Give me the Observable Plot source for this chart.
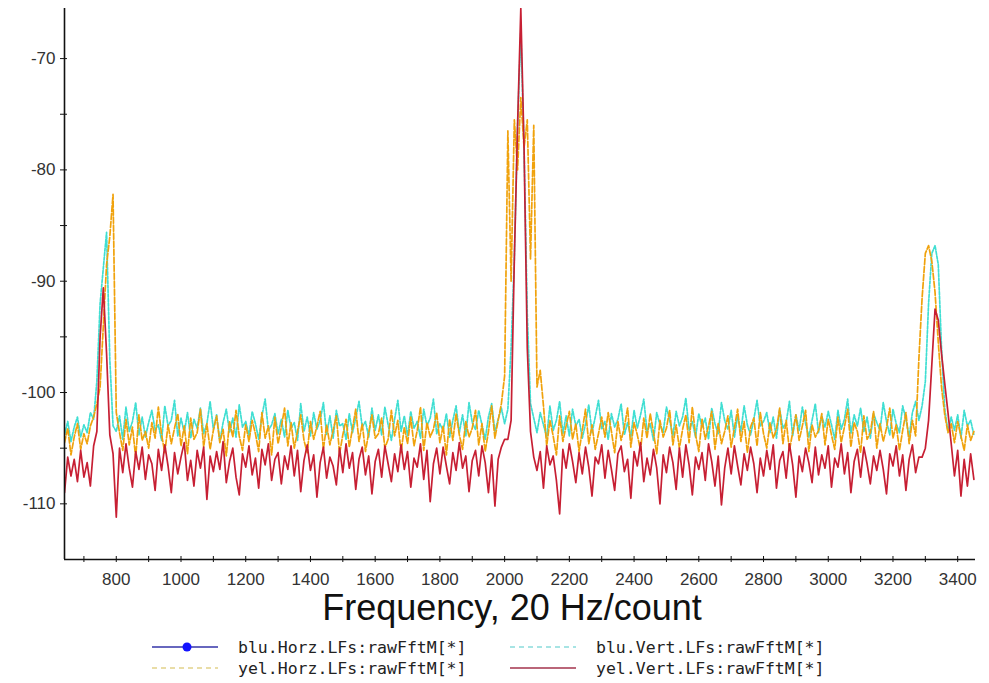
<!DOCTYPE html>
<html><head><meta charset="utf-8">
<script src="https://cdn.jsdelivr.net/npm/d3@7"></script>
<script src="https://cdn.jsdelivr.net/npm/@observablehq/plot@0.6"></script>
<style>
body{margin:0;background:#fff;}
#wrap{position:relative;width:989px;height:683px;overflow:hidden;}
#wrap svg{display:block;}
</style></head><body><div id="wrap"></div>
<script>
// ---- data (frequency in counts, level in dB) ----
const freqStart = 640, freqStep = 10;   // sample grid 640..3450
const xDomain = [640, 3455];
const yDomain = [-115, -65.5];

const seriesNames = ["blu.Horz.LFs:rawFftM[*]", "blu.Vert.LFs:rawFftM[*]", "yel.Horz.LFs:rawFftM[*]", "yel.Vert.LFs:rawFftM[*]"];

// blu.Horz: no trace visible in the reference
const bluHorz = [];

const bluVert = [
 -103.8,-102.6,-104.4,-103.1,-102.2,-104.0,-102.9,-103.6,-101.8,-102.4,
 -99.0,-92.0,-88.8,-85.6,-97.0,-103.0,-103.5,
 -102.1,-104.2,-101.3,-103.5,-102.6,-100.9,-103.8,-102.2,-104.0,-102.7,
 -101.6,-103.4,-102.9,-104.3,-101.2,-103.0,-102.5,-100.7,-103.9,-102.3,
 -103.6,-101.8,-104.1,-102.4,-103.2,-101.4,-103.7,-102.8,-100.8,-103.3,
 -102.0,-104.4,-102.7,-101.5,-103.6,-102.3,-104.0,-101.1,-103.1,-102.6,
 -103.9,-101.7,-102.8,-104.2,-102.1,-100.6,-103.4,-102.9,-101.9,-103.7,
 -102.4,-104.0,-101.6,-103.2,-102.7,-104.3,-101.0,-103.5,-102.2,-103.9,
 -101.8,-103.3,-102.5,-100.9,-103.8,-102.1,-104.1,-101.6,-103.0,-102.8,
 -104.2,-101.9,-103.6,-102.3,-100.8,-103.1,-102.6,-104.0,-101.4,-103.4,
 -102.0,-103.8,-101.3,-102.9,-104.3,-102.4,-100.7,-103.5,-102.1,-103.9,
 -101.7,-103.2,-102.6,-104.1,-101.5,-103.0,-102.3,-100.6,-103.7,-102.8,
 -103.4,-101.9,-104.0,-102.5,-101.2,-103.6,-102.0,-103.9,-100.9,-102.7,
 -103.3,-101.6,-102.9,-104.2,-102.2,-101.0,-103.5,-102.4,-101.4,-102.8,
 -101.5,-96.0,-88.0,-76.0,-67.5,-78.0,-93.0,-101.0,-102.3,
 -103.6,-101.8,-102.9,-104.0,-101.2,-103.4,-102.5,-100.8,-103.7,-102.1,-103.9,
 -101.5,-103.0,-102.4,-104.1,-102.8,-101.1,-103.6,-102.2,-100.7,-103.3,
 -102.6,-104.2,-101.9,-103.1,-102.4,-101.0,-103.8,-102.7,-104.0,-101.6,
 -103.2,-102.0,-100.6,-103.5,-102.8,-104.3,-101.8,-102.9,-103.6,-101.3,
 -102.5,-103.9,-101.7,-103.0,-102.2,-100.5,-103.4,-102.6,-104.0,-101.9,
 -103.1,-102.3,-104.2,-101.4,-102.8,-103.7,-100.9,-102.5,-103.3,-101.6,
 -104.0,-102.1,-103.5,-101.2,-102.9,-103.8,-102.4,-100.7,-103.0,-102.6,
 -101.8,-103.6,-102.2,-104.1,-101.5,-103.2,-102.7,-100.8,-103.9,-102.0,
 -103.4,-101.3,-102.8,-104.0,-102.5,-101.0,-103.6,-102.1,-103.1,-101.7,
 -102.9,-104.2,-101.6,-103.3,-102.4,-100.6,-103.7,-102.0,-103.0,-101.4,
 -103.5,-102.2,-104.1,-101.9,-102.7,-103.4,-100.9,-102.6,-103.8,-101.5,
 -102.8,-103.6,-101.2,-102.4,-104.0,-101.8,-100.8,-102.5,
 -101.2,-99.0,-92.0,-87.5,-86.8,-88.5,-96.0,-101.5,-103.5,-102.2,
 -103.4,-102.0,-104.1,-101.6,-103.0,-102.5,-103.8
];

const yelHorz = [
 -104.5,-103.2,-105.6,-104.0,-102.8,-105.1,-103.7,-104.6,-103.0,-102.2,
 -101.0,-99.5,-94.0,-88.5,-86.0,-82.2,-101.8,
 -103.6,-105.2,-102.4,-104.7,-103.1,-105.8,-102.0,-104.3,-103.5,-105.0,
 -102.7,-104.1,-101.3,-103.8,-105.4,-102.9,-104.6,-103.2,-101.9,-104.8,
 -103.0,-105.5,-102.3,-104.2,-103.6,-101.5,-104.9,-102.8,-105.1,-103.4,
 -102.1,-104.5,-103.3,-105.7,-102.6,-104.0,-101.6,-103.9,-105.2,-102.9,
 -104.4,-102.5,-103.7,-105.3,-101.8,-104.1,-103.0,-105.6,-102.2,-104.6,
 -103.1,-101.4,-104.8,-102.7,-105.0,-103.5,-102.0,-104.3,-105.4,-102.6,
 -104.2,-103.0,-101.7,-105.1,-102.9,-104.7,-103.4,-102.1,-105.5,-103.8,
 -102.4,-104.9,-103.2,-101.5,-104.4,-102.8,-105.3,-103.6,-102.0,-104.1,
 -103.7,-102.3,-105.0,-104.2,-101.6,-103.9,-102.5,-105.4,-103.1,-104.6,
 -102.2,-104.8,-103.4,-101.3,-105.2,-102.7,-104.0,-103.3,-101.8,-104.5,
 -103.0,-105.6,-102.4,-104.3,-101.9,-103.8,-105.1,-102.6,-104.0,-103.2,
 -101.6,-104.7,-102.8,-105.3,-103.5,-101.2,-104.1,-102.5,-101.0,-98.5,
 -76.5,-90.0,-75.5,-80.0,-73.5,-78.0,-75.5,-88.0,-76.0,
 -99.5,-98.0,-101.2,-104.8,-102.5,-103.9,-105.6,-102.1,-104.4,-103.0,-101.7,
 -104.2,-102.8,-105.3,-103.4,-101.5,-104.6,-102.9,-105.1,-103.7,-102.2,
 -104.0,-101.8,-103.5,-105.4,-102.6,-104.3,-103.1,-101.4,-104.9,-102.7,
 -103.8,-105.2,-102.3,-104.1,-101.9,-103.6,-105.5,-102.5,-104.0,-103.2,
 -101.6,-104.7,-102.9,-105.0,-103.3,-102.0,-104.5,-101.3,-103.8,-105.3,
 -102.4,-104.2,-103.0,-101.7,-105.1,-102.8,-104.6,-103.5,-102.1,-104.9,
 -103.2,-101.5,-104.4,-102.6,-105.4,-103.1,-102.3,-104.8,-101.8,-103.7,
 -105.0,-102.7,-104.1,-103.3,-101.4,-104.6,-102.5,-105.2,-103.6,-102.0,
 -104.3,-103.0,-101.6,-105.3,-102.9,-104.0,-103.4,-101.9,-104.7,-102.4,
 -103.8,-105.1,-102.2,-104.5,-103.1,-101.5,-104.9,-102.7,-103.5,-105.4,
 -102.1,-104.2,-103.6,-101.7,-105.0,-102.8,-104.4,-103.2,-101.4,-104.1,
 -102.9,-105.2,-103.4,-101.8,-104.6,-102.5,-103.9,-97.0,
 -91.5,-87.5,-86.8,-88.2,-91.0,-95.5,-99.5,-102.0,-103.6,-102.8,
 -104.5,-102.6,-103.9,-105.2,-102.9,-104.3,-103.5
];

const yelVert = [
 -109.0,-105.8,-107.5,-106.0,-108.0,-105.2,-107.6,-106.3,-108.4,-104.8,
 -103.5,-95.0,-90.6,-96.5,-103.8,-105.5,-111.2,
 -105.0,-107.2,-104.6,-106.8,-108.5,-105.3,-106.9,-104.9,-107.8,-105.6,
 -106.4,-108.8,-105.1,-107.0,-104.7,-106.6,-109.0,-105.4,-107.3,-105.8,
 -104.5,-107.9,-106.1,-108.4,-105.2,-106.8,-104.9,-109.6,-105.7,-107.1,
 -105.3,-106.9,-104.4,-108.1,-106.2,-105.0,-107.6,-109.2,-105.5,-106.7,
 -104.8,-107.4,-105.9,-108.6,-105.1,-106.5,-104.6,-107.9,-106.0,-105.4,
 -108.2,-105.7,-106.9,-104.8,-107.5,-105.2,-108.9,-106.1,-104.7,-107.0,
 -105.6,-109.4,-106.3,-104.9,-107.7,-105.8,-106.6,-108.3,-105.0,-107.2,
 -104.6,-106.8,-105.4,-108.7,-106.0,-104.9,-107.4,-105.7,-109.1,-106.2,
 -105.1,-107.6,-104.8,-106.4,-108.0,-105.5,-107.1,-104.7,-106.9,-105.3,
 -108.5,-105.9,-106.7,-104.6,-107.8,-105.2,-109.8,-106.4,-105.0,-107.3,
 -104.9,-106.6,-108.2,-105.4,-107.0,-104.5,-106.8,-105.7,-108.9,-106.1,
 -105.2,-107.5,-104.8,-106.3,-109.0,-105.6,-110.2,-106.0,-104.9,-104.2,
 -104.2,-102.5,-88.0,-76.0,-65.5,-78.0,-96.0,-103.5,-105.8,
 -107.0,-105.3,-108.6,-104.8,-106.5,-105.7,-107.9,-110.9,-105.1,-106.8,-104.6,
 -106.2,-108.1,-105.4,-107.3,-104.9,-106.7,-109.3,-105.8,-106.4,-104.7,
 -107.7,-105.2,-106.9,-108.8,-105.5,-104.8,-107.1,-106.0,-109.5,-105.3,
 -106.6,-104.5,-108.0,-105.9,-107.4,-105.1,-106.8,-110.0,-105.6,-107.2,
 -104.9,-106.3,-108.7,-105.0,-107.6,-104.7,-106.5,-109.2,-105.8,-106.9,
 -105.4,-107.9,-104.6,-106.2,-108.4,-105.7,-110.1,-106.8,-105.0,-107.3,
 -104.8,-106.6,-108.3,-105.5,-107.0,-104.9,-106.4,-109.0,-105.9,-107.5,
 -105.2,-106.9,-104.7,-108.6,-106.1,-105.3,-107.7,-104.6,-106.5,-109.4,
 -105.7,-107.1,-105.0,-106.3,-108.1,-104.9,-107.4,-105.6,-106.8,-104.8,
 -108.5,-105.9,-106.7,-104.6,-107.3,-105.4,-109.0,-106.2,-105.1,-107.6,
 -104.9,-106.4,-108.2,-105.7,-107.0,-105.2,-106.9,-109.1,-105.5,-106.6,
 -104.8,-107.5,-105.6,-108.8,-106.0,-104.7,-107.2,-105.8,
 -105.8,-105.0,-102.5,-97.5,-92.5,-93.5,-96.5,-99.2,-101.8,-104.6,
 -107.5,-105.2,-109.3,-106.0,-108.4,-105.5,-107.8
];

const xTicks = [700,800,900,1000,1100,1200,1300,1400,1500,1600,1700,1800,1900,2000,2100,2200,2300,2400,2500,2600,2700,2800,2900,3000,3100,3200,3300,3400];
const xTickLabels = [800,1000,1200,1400,1600,1800,2000,2200,2400,2600,2800,3000,3200,3400];
const yTicks = [-110,-105,-100,-95,-90,-85,-80,-75,-70];
const yTickLabels = [-110,-100,-90,-80,-70];
const xTitle = "Frequency, 20 Hz/count";

// ---- styles ----
const seriesStyle = [
  {stroke: "#2a2ab0", dash: null, width: 1.3, dot: "#1414ff", legendStroke: "#3434a8"},
  {stroke: "#3fded2", dash: "3,1.5", width: 1.7, dot: null, legendStroke: "#8adcdc"},
  {stroke: "#f0a20c", dash: "6,2", width: 1.7, dot: null, legendStroke: "#e2d28a"},
  {stroke: "#c71f33", dash: null, width: 1.7, dot: null, legendStroke: "#a3334c"}
];
const seriesData = [bluHorz, bluVert, yelHorz, yelVert];

const wrap = document.getElementById("wrap");
[bluVert, yelHorz, yelVert].forEach((a, k) => {
  if (a.length !== 282) wrap.insertAdjacentHTML("beforeend", `<div style="position:absolute;top:${10+k*20}px;left:300px;color:red">len ${k}: ${a.length}</div>`);
});

const rows = seriesData.map(arr => arr.map((v, i) => ({freq: freqStart + i * freqStep, value: v})));

const lineMarks = [];
seriesData.forEach((arr, k) => {
  if (!arr.length) return;
  lineMarks.push(Plot.lineY(rows[k], {
    x: "freq", y: "value", stroke: seriesStyle[k].stroke, strokeWidth: seriesStyle[k].width,
    strokeDasharray: seriesStyle[k].dash, clip: true
  }));
});

const chart = Plot.plot({
  width: 989, height: 592,
  marginLeft: 64, marginRight: 14, marginTop: 8, marginBottom: 33,
  x: {domain: xDomain},
  y: {domain: yDomain},
  style: {fontFamily: "'Liberation Sans', Arial, sans-serif", fontSize: "17px", color: "#222", background: "#fff"},
  marks: [
    ...lineMarks,
    Plot.ruleX([xDomain[0]], {stroke: "#111", strokeWidth: 1.6}),
    Plot.ruleY([yDomain[0]], {stroke: "#111", strokeWidth: 1.6}),
    Plot.axisX({ticks: xTicks, tickSize: 6, dy: -3, tickFormat: () => "", label: null, stroke: "#111"}),
    Plot.axisX({ticks: xTickLabels, tickSize: 0, tickPadding: 13, tickFormat: d => String(d), label: null, fill: "#333"}),
    Plot.axisY({ticks: yTicks, tickSize: 7, dx: 3, tickFormat: () => "", label: null, stroke: "#111"}),
    Plot.axisY({ticks: yTickLabels, tickSize: 0, tickPadding: 9, tickFormat: d => String(d), label: null, fill: "#333"})
  ]
});
wrap.appendChild(chart);

// ---- title and legend below the plot ----
const svg = d3.select(wrap).append("svg")
  .attr("width", 989).attr("height", 101)
  .style("position", "absolute").style("left", "0px").style("top", "582px");

svg.append("text").attr("x", 512).attr("y", 38).attr("text-anchor", "middle")
  .style("font-family", "'Liberation Sans', Arial, sans-serif").style("font-size", "36px").attr("fill", "#111")
  .text(xTitle);

const legendPos = [[152, 65], [510, 65], [152, 86], [510, 86]];
seriesNames.forEach((name, k) => {
  const [x0, y0] = legendPos[k];
  const st = seriesStyle[k];
  const g = svg.append("g");
  g.append("line").attr("x1", x0).attr("x2", x0 + 66).attr("y1", y0).attr("y2", y0)
    .attr("stroke", st.legendStroke).attr("stroke-width", k === 0 ? 1.6 : 1.3)
    .attr("stroke-dasharray", st.dash ? "5,4" : null);
  if (st.dot) g.append("circle").attr("cx", x0 + 35).attr("cy", y0).attr("r", 4.5).attr("fill", st.dot);
  g.append("text").attr("x", x0 + 86).attr("y", y0).attr("dy", "0.35em")
    .style("font-family", "'DejaVu Sans Mono', monospace").style("font-size", "16.5px").attr("fill", "#222")
    .text(name);
});
</script>
</body></html>
